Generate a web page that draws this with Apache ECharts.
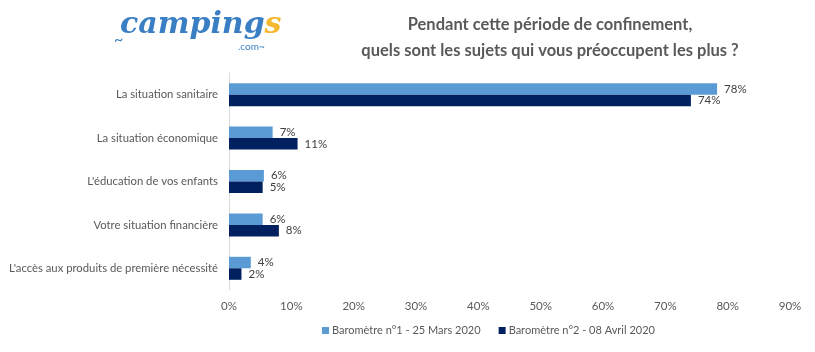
<!DOCTYPE html>
<html><head><meta charset="utf-8">
<script src="https://cdn.jsdelivr.net/npm/echarts@6/dist/echarts.min.js"></script>
<style>html,body{margin:0;padding:0;background:#fff}#c{width:815px;height:352px}</style>
</head><body><div id="c"></div>
<script>
const categories = ["La situation sanitaire","La situation économique","L'éducation de vos enfants","Votre situation financière","L'accès aux produits de première nécessité"];
const seriesNames = ["Baromètre n°1 - 25 Mars 2020","Baromètre n°2 - 08 Avril 2020"];
const baro1 = [78.3, 7.0, 5.6, 5.4, 3.5];
const baro2 = [74.1, 11.0, 5.4, 8.0, 2.0];
const baro1Labels = ["78%","7%","6%","6%","4%"];
const baro2Labels = ["74%","11%","5%","8%","2%"];
const xTicks = [0,10,20,30,40,50,60,70,80,90];

const chart = echarts.init(document.getElementById('c'), null, {renderer:'canvas'});
const font = "Lato, 'Open Sans', sans-serif";
chart.setOption({
  animation:false,
  textStyle:{fontFamily:font},
  title:{
    text:"Pendant cette période de confinement,\nquels sont les sujets qui vous préoccupent les plus ?",
    left:545, top:7, textAlign:'center',
    textStyle:{fontSize:16.5, fontWeight:'bold', color:'#595959', lineHeight:26, fontFamily:font}
  },
  graphic:[{
    type:'text', left:120, top:10,
    style:{
      text:'{a|camping}{b|s}',
      rich:{
        a:{fontSize:30, fontWeight:'bold', fontStyle:'italic', fill:'#3a7fc4', fontFamily:"'DejaVu Serif', serif"},
        b:{fontSize:30, fontWeight:'bold', fontStyle:'italic', fill:'#f5b82e', fontFamily:"'DejaVu Serif', serif"}
      }
    }
  },{
    type:'text', left:238, top:42,
    style:{text:'.com~', fontSize:10, fill:'#3a7fc4', fontFamily:font}
  },{
    type:'text', left:114, top:32,
    style:{text:'~', fontSize:16, fill:'#3a7fc4', fontFamily:font}
  }],
  legend:{
    data:seriesNames, top:320, left:317, itemWidth:7, itemHeight:7, itemGap:18,
    icon:'rect',
    textStyle:{fontSize:11, color:'#595959', fontFamily:font, padding:[0,0,0,-2]}
  },
  grid:{left:229, right:25, top:73, height:217, containLabel:false},
  xAxis:{
    type:'value', min:0, max:90, interval:10,
    axisLine:{show:false}, axisTick:{show:false}, splitLine:{show:false},
    axisLabel:{formatter:v=>xTicks.includes(v)?v+'%':'', fontSize:11.5, color:'#595959', margin:10}
  },
  yAxis:{
    type:'category', data:categories, inverse:true,
    axisLine:{show:true, lineStyle:{color:'#d9d9d9', width:1}},
    axisTick:{show:false},
    axisLabel:{fontSize:11.3, color:'#595959', margin:11}
  },
  series:[{
    name:seriesNames[0], type:'bar', data:baro1, barWidth:11.5, barGap:'0%',
    itemStyle:{color:'#5b9bd5'},
    label:{show:true, position:'right', distance:7, fontSize:11.5, color:'#404040',
      formatter:p=>baro1Labels[p.dataIndex]}
  },{
    name:seriesNames[1], type:'bar', data:baro2, barWidth:11.5, barGap:'0%',
    itemStyle:{color:'#002060'},
    label:{show:true, position:'right', distance:7, fontSize:11.5, color:'#404040',
      formatter:p=>baro2Labels[p.dataIndex]}
  }]
});
</script></body></html>
